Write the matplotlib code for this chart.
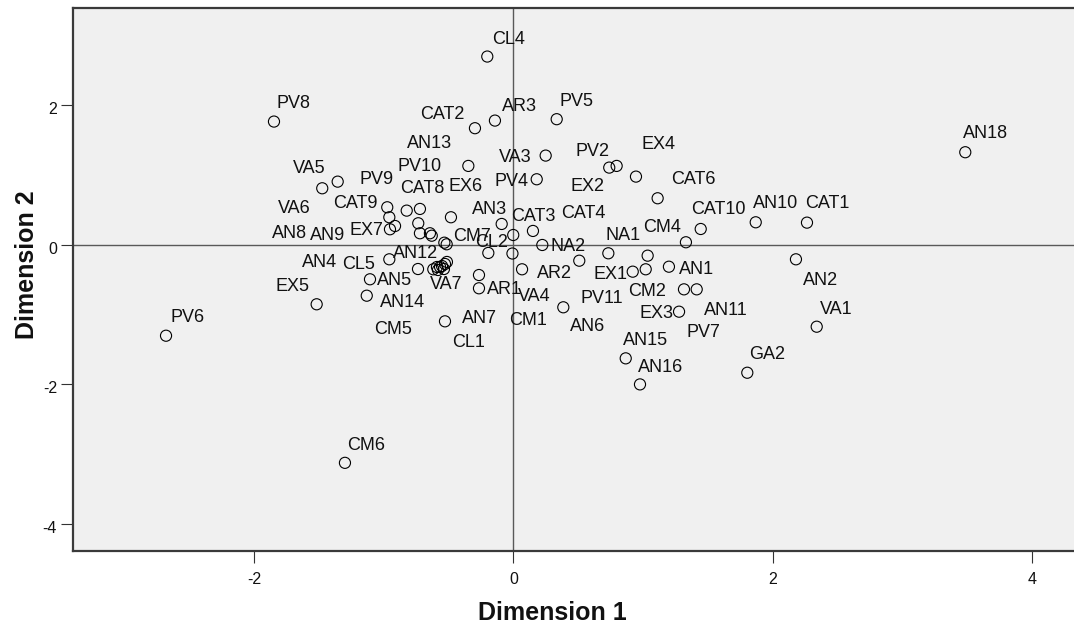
import matplotlib
matplotlib.use("Agg")
import matplotlib.pyplot as plt
from matplotlib.transforms import ScaledTranslation

plt.rcParams["axes.unicode_minus"] = False

# ---- data (object scores) ----
names = ["CL4", "PV8", "AR3", "PV5", "CAT2", "AN18", "AN13", "VA3", "PV2", "EX4",
         "EX2", "PV4", "CAT6", "CAT10", "AN10", "CAT1", "CM4", "NA1", "AN2", "AN1",
         "EX1", "CM2", "PV11", "AR2", "AN6", "EX3", "PV7", "AN11", "VA1", "AN15",
         "AN16", "GA2", "PV6", "CM6", "VA5", "VA6", "PV9", "CAT8", "PV10", "CAT9",
         "EX6", "EX7", "AN8", "AN9", "AN12", "CM5", "AN14", "AN5", "CL5", "AN4",
         "EX5", "CM7", "AN3", "CAT3", "NA2", "CL2", "CAT4", "AR1", "VA4", "AN7",
         "CL1", "CM1", "VA7",
         "", "", "", "", "", "", "", "", ""]
dim1 = [-0.202, -1.846, -0.143, 0.333, -0.297, 3.482, -0.348, 0.248, 0.738, 0.944,
        0.795, 0.179, 1.111, 1.443, 1.867, 2.262, 1.329, 0.731, 2.177, 1.198,
        0.919, 1.019, 1.034, 0.507, 0.384, 1.276, 1.314, 1.412, 2.337, 0.865,
        0.975, 1.802, -2.678, -1.299, -1.355, -1.474, -0.973, -0.823, -0.721, -0.957,
        -0.482, -0.913, -0.952, -0.734, -0.721, -1.131, -1.106, -0.957, -0.736, -0.644,
        -1.517, -0.533, -0.091, -0.002, 0.222, -0.008, 0.150, -0.266, 0.066, -0.266,
        -0.528, -0.194, -0.566,
        -0.630, -0.515, -0.618, -0.590, -0.551, -0.528, -0.513, -0.582, -0.536]
dim2 = [2.695, 1.764, 1.778, 1.798, 1.669, 1.325, 1.129, 1.277, 1.105, 0.976,
        1.129, 0.938, 0.666, 0.226, 0.322, 0.317, 0.036, -0.122, -0.208, -0.314,
        -0.385, -0.351, -0.156, -0.228, -0.895, -0.958, -0.638, -0.638, -1.173, -1.626,
        -1.999, -1.832, -1.302, -3.122, 0.904, 0.809, 0.537, 0.489, 0.513, 0.394,
        0.394, 0.269, 0.222, 0.308, 0.165, -0.729, -0.494, -0.208, -0.347, 0.165,
        -0.852, 0.030, 0.298, 0.140, -0.003, -0.125, 0.198, -0.623, -0.351, -0.433,
        -1.096, -0.117, -0.318,
        0.130, 0.007, -0.351, -0.318, -0.304, -0.275, -0.246, -0.361, -0.347]

x_ticks = [-2, 0, 2, 4]
y_ticks = [-4, -2, 0, 2]
x_title = "Dimension 1"
y_title = "Dimension 2"

# ---- label placement (pixels: left edge of text, middle of capitals above point) ----
label_offsets = {
    "CL4": (4.4, 19.4), "PV8": (3, 19.7), "AR3": (6.7, 15.7), "PV5": (3.3, 19.3),
    "CAT2": (-55, 15.3), "AN18": (-2.3, 20.3), "AN13": (-61.3, 24), "VA3": (-46.4, 0),
    "PV2": (-33.3, 17.7), "EX4": (6, 33.7), "EX2": (-45.7, -19), "PV4": (-42.7, -0.7),
    "CAT6": (13.3, 20.3), "CAT10": (-9.7, 21), "AN10": (-2.7, 20.3), "CAT1": (-2, 20.7),
    "CM4": (-43, 16.3), "NA1": (-3.3, 19.3), "AN2": (7, -18.7), "AN1": (10, -0.3),
    "EX1": (-39.7, -1.3), "CM2": (-17.7, -20.7), "PV11": (-66.7, -41.3), "AR2": (-42.3, -10.3),
    "AN6": (6.7, -17.7), "EX3": (-39.7, 0), "PV7": (3, -40.7), "AN11": (7.3, -18.7),
    "VA1": (3.3, 19.7), "AN15": (-2.7, 20.3), "AN16": (-2, 19.3), "GA2": (1.7, 20.7),
    "PV6": (4, 20.7), "CM6": (2, 19.7), "VA5": (-44.7, 15.2), "VA6": (-44.3, -18.7),
    "PV9": (-27.3, 29.3), "CAT8": (-6.7, 23.7), "PV10": (-22, 44), "CAT9": (-56.3, 15.3),
    "EX6": (-2, 32.3), "EX7": (-46, -3), "AN8": (-118, -2.7), "AN9": (-108.3, -10.7),
    "AN12": (-27, -18.7), "CM5": (7.3, -32.3), "AN14": (10, -21.7), "AN5": (-12.3, -18.7),
    "CL5": (-76, 7), "AN4": (-128, -27.7), "EX5": (-40.7, 19.3), "CM7": (8.7, 7.7),
    "AN3": (-29.7, 16), "CAT3": (-2.3, 20.5), "NA2": (8.7, 0), "CL2": (-37.5, 13.5),
    "CAT4": (28, 19), "AR1": (8, 0.3), "VA4": (-4, -25.7), "AN7": (-17, -41),
    "CL1": (7, -18.7), "CM1": (20.7, -66), "VA7": (-10, -16),
}
CAP_HALF = 6.5  # half of capital height in pixels

W, H = 1074, 626
fig = plt.figure(figsize=(W / 100, H / 100), dpi=100)
fig.patch.set_facecolor("white")
ax = fig.add_axes([73 / W, (H - 550.7) / H, 1 - 73 / W, (550.7 - 8) / H])
ax.set_facecolor("#f0f0f0")

ax.set_xlim(-3.395, 4.32)
ax.set_ylim(-4.38, 3.39)

ax.axhline(0, color="#595959", lw=1.0, zorder=1)
ax.axvline(0, color="#595959", lw=1.0, zorder=1)

ax.scatter(dim1, dim2, s=64, facecolors="none", edgecolors="black",
           linewidths=0.8, zorder=3)

font = ["Liberation Sans", "Arial", "DejaVu Sans"]
for n, x, y in zip(names, dim1, dim2):
    if not n:
        continue
    dx, dy = label_offsets[n]
    ax.annotate(n, (x, y), xytext=(dx, dy - CAP_HALF), textcoords="offset pixels",
                ha="left", va="baseline", fontsize=13, family=font,
                color="#111111", zorder=4)

for s in ["left", "bottom", "top"]:
    ax.spines[s].set_color("#3a3a3a")
    ax.spines[s].set_linewidth(1.6)
ax.spines["right"].set_visible(False)

ax.set_xticks(x_ticks)
ax.set_yticks(y_ticks)
ax.tick_params(direction="out", length=8.6, width=0.8, color="#333333",
               labelsize=11.5, labelcolor="#111111")
ax.tick_params(axis="x", pad=6.5)
ax.tick_params(axis="y", pad=3)
for lab in ax.get_xticklabels() + ax.get_yticklabels():
    lab.set_family(font)
for lab in ax.get_yticklabels():
    lab.set_transform(lab.get_transform() + ScaledTranslation(0, -3 / 100, fig.dpi_scale_trans))

fig.text(552 / W, 1 - 620 / H, x_title, ha="center", va="baseline",
         fontsize=18, fontweight="bold", family=font, color="#111111")
fig.text(27.5 / W, 1 - 265 / H, y_title, ha="center", va="center", rotation=90,
         fontsize=18, fontweight="bold", family=font, color="#111111")

fig.savefig("out.png", dpi=100)
